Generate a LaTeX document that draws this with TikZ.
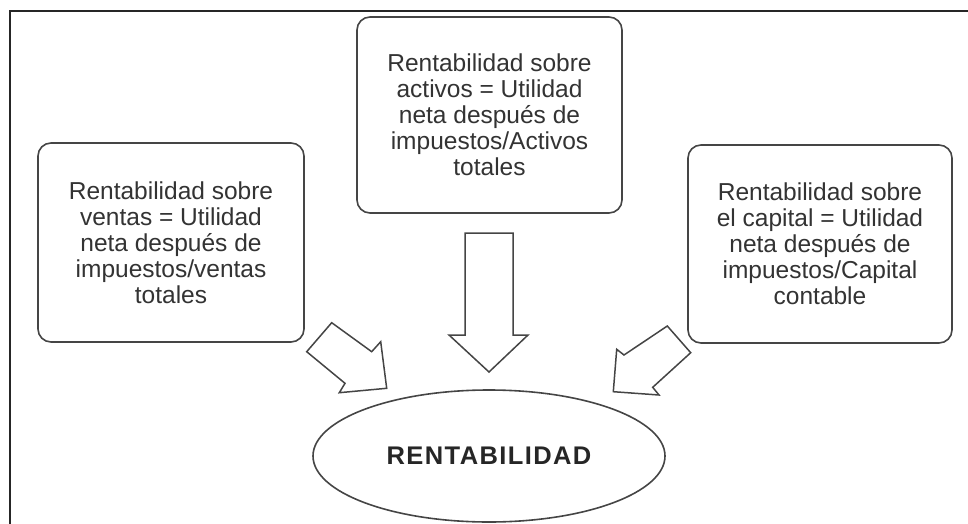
\documentclass[tikz,border=0pt]{standalone}
\usepackage{fontspec}
\setmainfont{Liberation Sans}
\usepackage{tikz}
\usetikzlibrary{shapes.geometric}
\definecolor{edgegray}{HTML}{454545}
\definecolor{textgray}{HTML}{333333}

\begin{document}
\begin{tikzpicture}[x=1pt, y=-1pt,
    infobox/.style={draw=edgegray, line width=1.6pt, rounded corners=13pt, fill=white,
        align=center, text=textgray, inner sep=0pt,
        font=\fontsize{24.5}{26}\selectfont},
    fatarrow/.style={draw=edgegray, line width=1.5pt, fill=white, line join=miter}]
    \useasboundingbox (0,0) rectangle (968,524);

    % Outer frame (only top and left edges show)
    \draw[line width=2pt, black!85] (10,524) -- (10,11) -- (968,11);

    % The three ratios
    \node[infobox, minimum width=265pt, minimum height=196pt] (activos) at (489.5,115)
        {Rentabilidad sobre\\activos = Utilidad\\neta después de\\impuestos/Activos\\totales};
    \node[infobox, minimum width=266pt, minimum height=199pt] (ventas) at (171,242.5)
        {Rentabilidad sobre\\ventas = Utilidad\\neta después de\\impuestos/ventas\\totales};
    \node[infobox, minimum width=264pt, minimum height=198pt] (capital) at (820,244)
        {Rentabilidad sobre\\el capital = Utilidad\\neta después de\\impuestos/Capital\\contable};

    % Result
    \node[ellipse, draw=edgegray, line width=1.6pt, minimum width=352pt, minimum height=132pt,
        inner sep=0pt, text=black!85,
        font=\fontsize{25.5}{28}\selectfont\bfseries\addfontfeature{LetterSpace=5.5}]
        (rent) at (489,456) {RENTABILIDAD};

    % Block arrows
    \draw[fatarrow] (465,233) -- (513,233) -- (513,335) -- (528,335) -- (489,372)
        -- (449,335) -- (465,335) -- cycle;
    \draw[fatarrow] (331.7,322.7) -- (371.7,351.7) -- (380.7,341.7) -- (386.7,388.3)
        -- (339.3,392.7) -- (345,383.3) -- (306.7,351.7) -- cycle;
    \draw[fatarrow] (667.3,326) -- (624,355) -- (616.7,349.3) -- (613.3,391.7)
        -- (659,395) -- (652.7,387.3) -- (690.7,352.7) -- cycle;
\end{tikzpicture}
\end{document}
